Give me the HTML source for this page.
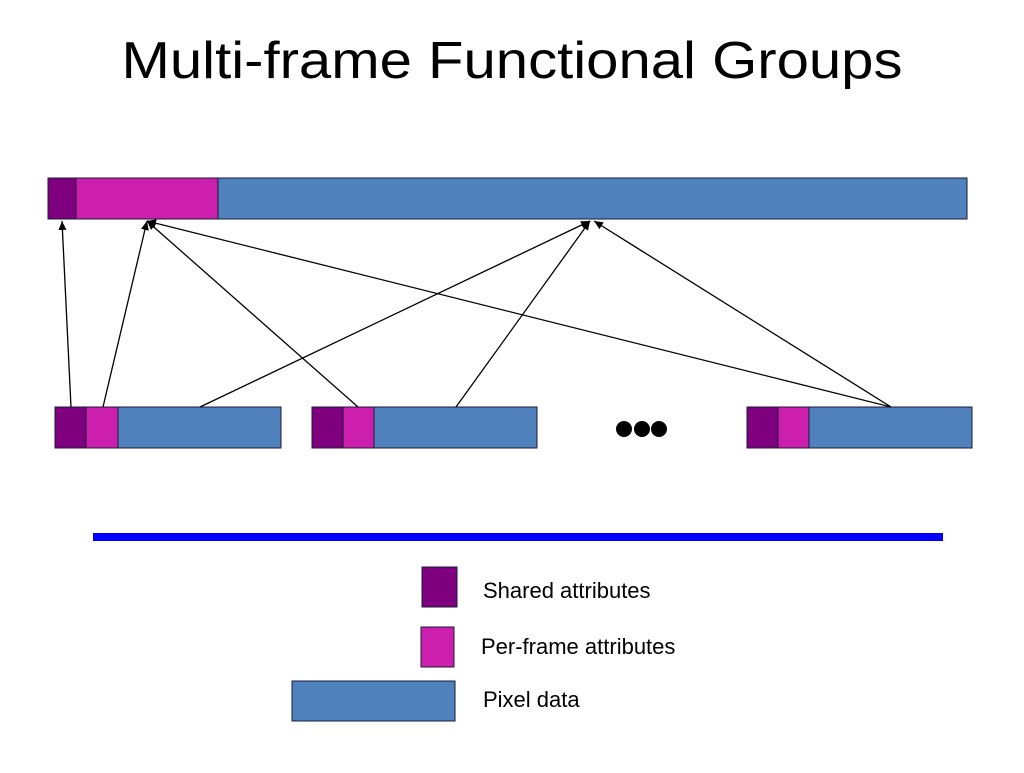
<!DOCTYPE html>
<html><head><style>body{margin:0;background:#fff}</style></head><body>
<svg width="1024" height="768" viewBox="0 0 1024 768" xmlns="http://www.w3.org/2000/svg">
<defs><marker id="a" markerWidth="10" markerHeight="10" refX="9" refY="5" orient="auto" markerUnits="userSpaceOnUse"><path d="M0,1 L9,5 L0,9 z" fill="#000"/></marker></defs>
<text x="512" y="78" text-anchor="middle" font-family="Liberation Sans, sans-serif" font-size="52" textLength="781" lengthAdjust="spacingAndGlyphs">Multi-frame Functional Groups</text>
<g stroke="#1a1a3a" stroke-width="1">
<rect x="48" y="178" width="28" height="41" fill="#7f007f"/>
<rect x="76" y="178" width="142" height="41" fill="#cc1fad"/>
<rect x="218" y="178" width="749" height="41" fill="#4f81bd"/>
<rect x="55" y="407" width="31" height="41" fill="#7f007f"/>
<rect x="86" y="407" width="32" height="41" fill="#cc1fad"/>
<rect x="118" y="407" width="163" height="41" fill="#4f81bd"/>
<rect x="312" y="407" width="31" height="41" fill="#7f007f"/>
<rect x="343" y="407" width="31" height="41" fill="#cc1fad"/>
<rect x="374" y="407" width="163" height="41" fill="#4f81bd"/>
<rect x="747" y="407" width="31" height="41" fill="#7f007f"/>
<rect x="778" y="407" width="31" height="41" fill="#cc1fad"/>
<rect x="809" y="407" width="163" height="41" fill="#4f81bd"/>
</g>
<g stroke="#000" stroke-width="1.3" marker-end="url(#a)">
<line x1="71" y1="407" x2="62" y2="221"/>
<line x1="103" y1="407" x2="147" y2="221"/>
<line x1="358" y1="407" x2="147" y2="221"/>
<line x1="891" y1="407" x2="147" y2="221"/>
<line x1="200" y1="407" x2="590" y2="221"/>
<line x1="456" y1="407" x2="590" y2="221"/>
<line x1="891" y1="407" x2="594" y2="221"/>
</g>
<circle cx="624" cy="429" r="8"/><circle cx="642" cy="429" r="8"/><circle cx="659" cy="429" r="8"/>
<rect x="93" y="533" width="850" height="8" fill="#0000ff"/>
<g stroke="#1a1a3a" stroke-width="1">
<rect x="422" y="567" width="35" height="40" fill="#7f007f"/>
<rect x="421" y="627" width="33" height="40" fill="#cc1fad"/>
<rect x="292" y="681" width="163" height="40" fill="#4f81bd"/>
</g>
<g font-family="Liberation Sans, sans-serif" font-size="22">
<text x="483" y="598">Shared attributes</text>
<text x="481" y="654">Per-frame attributes</text>
<text x="483" y="707">Pixel data</text>
</g>
</svg>
</body></html>
